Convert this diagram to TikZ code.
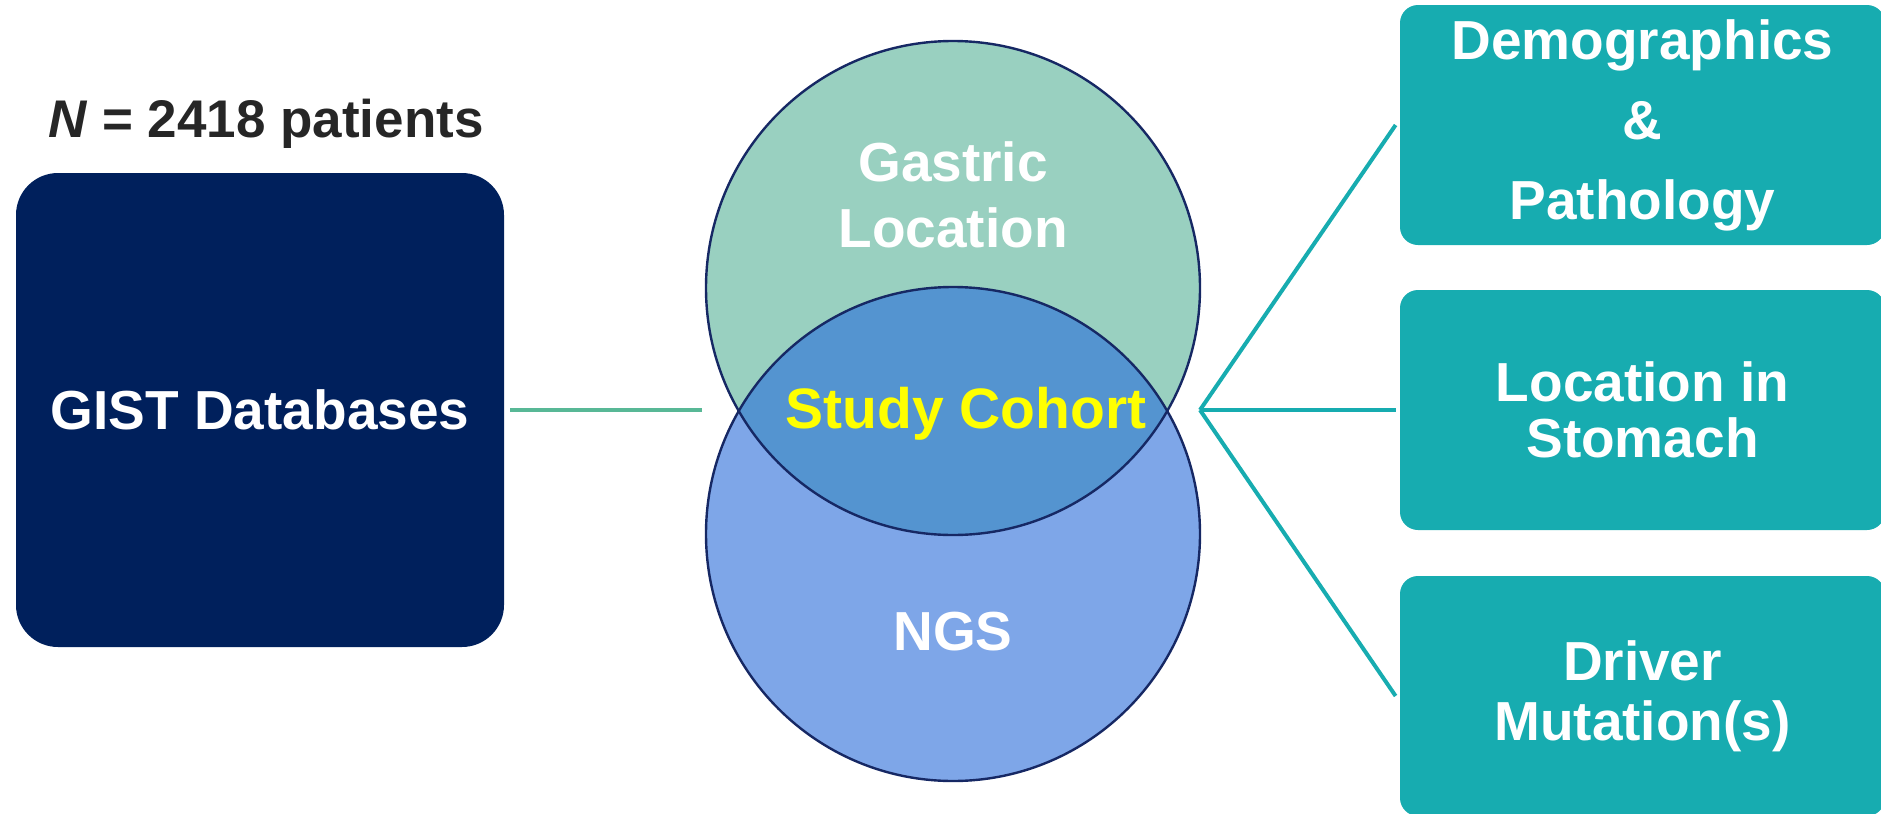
\documentclass[tikz,border=0pt]{standalone}
\usepackage{fontspec}
\setmainfont{Liberation Sans}
\usetikzlibrary{calc, positioning}

\definecolor{navybox}{RGB}{0,32,92}
\definecolor{tealbox}{RGB}{23,172,176}
\definecolor{linkgreen}{RGB}{88,184,150}
\definecolor{gastricfill}{RGB}{153,208,192}
\definecolor{ngsfill}{RGB}{126,166,232}
\definecolor{cohortfill}{RGB}{84,148,208}
\definecolor{ringline}{RGB}{22,40,100}
\definecolor{titlegray}{RGB}{38,38,38}
\definecolor{cohortyellow}{RGB}{255,255,0}

\tikzset{
  bigtext/.style={font=\fontsize{27.5}{33}\selectfont\bfseries},
  outbox/.style={bigtext, fill=tealbox, text=white, rounded corners=9pt,
    minimum width=242.5pt, minimum height=120pt, align=center, inner sep=0pt},
  fanline/.style={tealbox, line width=2pt},
}

\begin{document}
\begin{tikzpicture}[x=0.5pt, y=-0.5pt]
\def\rad{123.5pt}
\useasboundingbox (0,0) rectangle (1881,814);

\coordinate (gtop) at (953,288);
\coordinate (gbot) at (953,534);
\coordinate (vennleft) at (702,410);
\coordinate (fan) at (1200,410);

\fill[gastricfill] (gtop) circle (\rad);
\fill[ngsfill] (gbot) circle (\rad);
\begin{scope}
\clip (gtop) circle (\rad);
\fill[cohortfill] (gbot) circle (\rad);
\end{scope}
\draw[ringline, line width=1.2pt] (gtop) circle (\rad);
\draw[ringline, line width=1.2pt] (gbot) circle (\rad);

\node[text=titlegray, font=\fontsize{26.5}{32}\selectfont\bfseries] (total) at (266,124)
  {\textit{N} = 2418 patients};
\node[bigtext, fill=navybox, text=white, rounded corners=21pt,
  minimum width=244pt, minimum height=237pt] (gist) at (260,410) {GIST Databases};

\node[bigtext, text=white, align=center] (gastric) at (953,195) {Gastric\\Location};
\node[text=cohortyellow, font=\fontsize{28.5}{34}\selectfont\bfseries] (cohort) at (966,414)
  {Study Cohort};
\node[bigtext, text=white] (ngs) at (953,632) {NGS};

\node[outbox, font=\fontsize{27.5}{40}\selectfont\bfseries] (demo) at (1642.5,125)
  {Demographics\\\&\\Pathology};
\node[outbox, font=\fontsize{27.5}{28}\selectfont\bfseries] (stomach) at (1642.5,410)
  {Location in\\Stomach};
\node[outbox, font=\fontsize{27.5}{30}\selectfont\bfseries] (driver) at (1642.5,696)
  {Driver\\Mutation(s)};

\draw[linkgreen, line width=2pt] ([xshift=3pt]gist.east) -- (vennleft);
\draw[fanline] (fan) -- ([xshift=-2pt]demo.west);
\draw[fanline] (fan) -- ([xshift=-2pt]stomach.west);
\draw[fanline] (fan) -- ([xshift=-2pt]driver.west);
\end{tikzpicture}
\end{document}
